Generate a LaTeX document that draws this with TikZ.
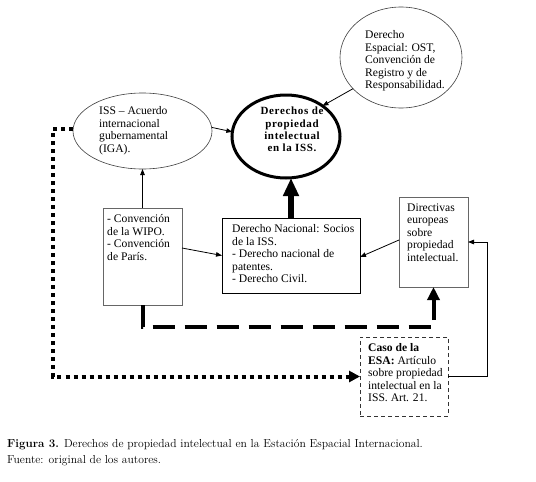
\documentclass[tikz,border=0pt]{standalone}
\usepackage{fontspec}
\newfontfamily\tnr[Ligatures=TeX]{Liberation Serif}
\usetikzlibrary{arrows.meta,shapes.geometric,calc}
\begin{document}
\begin{tikzpicture}[x=1pt,y=-1pt,
  txt/.style={anchor=north west, inner sep=0pt, align=left, font=\tnr\fontsize{11.6}{12.5}\selectfont},
  ell/.style={ellipse, draw=black!75, line width=0.6pt, outer sep=0pt, inner sep=0pt},
  boxg/.style={rectangle, draw=black!60, line width=0.8pt, outer sep=0pt, inner sep=0pt},
  thinarrow/.style={draw=black, line width=0.8pt, -{Triangle[length=6pt,width=4.5pt]}},
  thickarrow/.style={draw=black, line width=6pt, -{Triangle[length=18pt,width=15pt]}},
  dasharrow/.style={draw=black, line width=4pt, dash pattern=on 22pt off 10pt, -{Triangle[length=13pt,width=12pt]}},
  dotarrow/.style={draw=black, line width=4pt, dash pattern=on 4pt off 4pt, -{Triangle[length=11pt,width=11pt]}}
]
\useasboundingbox[fill=white] (0,0) rectangle (536,482);

% shapes
\node[ell, minimum width=122, minimum height=101] (esp) at (401,57.5) {};
\node[ell, minimum width=139, minimum height=76] (iga) at (142.5,131) {};
\node[ellipse, draw=black, line width=3pt, outer sep=0pt, inner sep=0pt, minimum width=108, minimum height=83] (isr) at (286,136.5) {};
\node[boxg, minimum width=79, minimum height=97] (wipo) at (142.5,256.5) {};
\node[boxg, draw=black, minimum width=138, minimum height=75] (nac) at (291,255.5) {};
\node[boxg, minimum width=69, minimum height=90] (dir) at (433.5,242) {};
\node[boxg, draw=black!80, dash pattern=on 4pt off 3pt, minimum width=88, minimum height=79] (esa) at (404,376.5) {};

% texts
\node[txt] (tesp) at (365,30.5) {Derecho\\Espacial: OST,\\Convención de\\Registro y de\\Responsabilidad.};
\node[txt] (tiga) at (99,106.5) {ISS – Acuerdo\\internacional\\gubernamental\\(IGA).};
\node[anchor=north, inner sep=0pt, align=center, font=\tnr\bfseries\fontsize{11}{12.3}\selectfont\addfontfeature{LetterSpace=6}] (tisr) at (292,107) {Derechos de\\propiedad\\intelectual\\en la ISS.};
\node[txt] (twipo) at (107,214.5) {- Convención\\de la WIPO.\\- Convención\\de París.};
\node[txt] (tnac) at (232,224.5) {Derecho Nacional: Socios\\de la ISS.\\- Derecho nacional de\\patentes.\\- Derecho Civil.};
\node[txt] (tdir) at (407,203.5) {Directivas\\europeas\\sobre\\propiedad\\intelectual.};
\node[txt] (tesa) at (368,343.5) {\textbf{Caso de la}\\\textbf{ESA:} Artículo\\sobre propiedad\\intelectual en la\\ISS. Art. 21.};

% connectors
\draw[thinarrow] (iga.3) -- (isr.175);
\draw[thinarrow] (esp.213) -- (isr.40);
\draw[thinarrow] (wipo.north) -- (iga.south);
\draw[thinarrow] ([yshift=8.5pt]wipo.east) -- (nac.west);
\draw[thinarrow] ([yshift=2pt]dir.west) -- ([yshift=-1.5pt]nac.east);
\draw[thickarrow] (nac.north) -- (nac.north |- isr.south);
\draw[dasharrow] (wipo.south) -- ++(0,22) -| (dir.south);
\coordinate (dc) at (53,129);
\draw[dotarrow] (iga.west |- dc) -- (dc) |- (esa.west);
\draw[thinarrow] (esa.east) -| ([xshift=19pt]dir.east) -- (dir.east);

% caption
\node[anchor=base west, inner sep=0pt, align=left, font=\fontsize{11.6}{16}\selectfont] (cap) at (7,463) {\textbf{Figura 3.} Derechos de propiedad intelectual en la Estación Espacial Internacional.\\Fuente: original de los autores.};
\end{tikzpicture}
\end{document}
